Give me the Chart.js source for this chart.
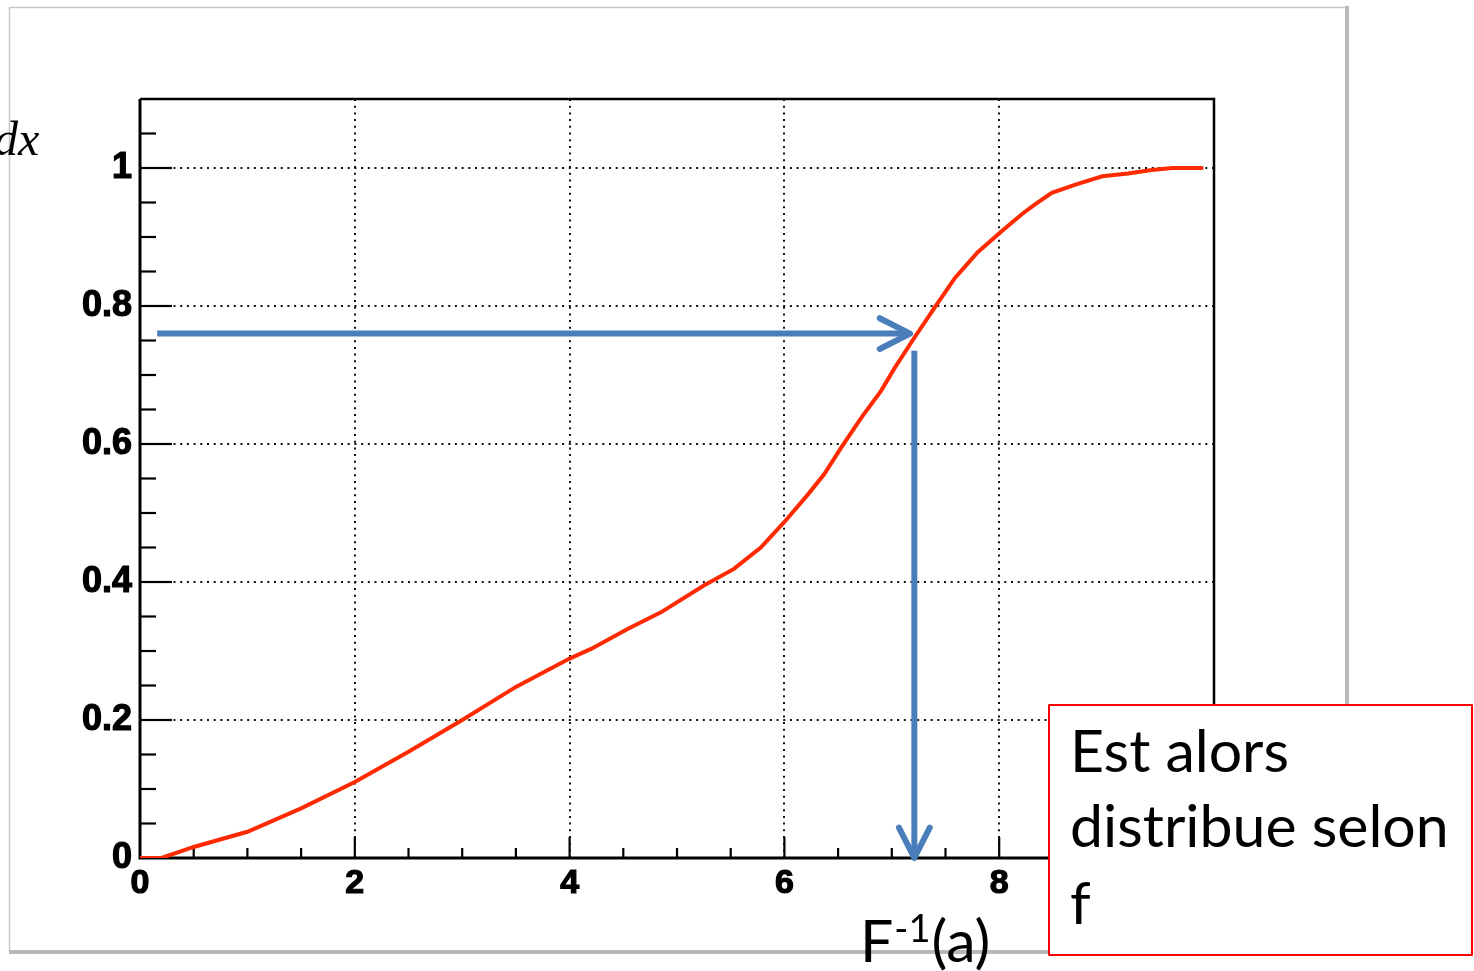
<!DOCTYPE html>
<html>
<head>
<meta charset="utf-8">
<script src="https://cdn.jsdelivr.net/npm/chart.js@4.4.1/dist/chart.umd.min.js"></script>
<style>
  html, body { margin: 0; padding: 0; background: #fff; }
  #wrap { position: relative; width: 1474px; height: 971px; }
</style>
</head>
<body>
<div id="wrap"><canvas id="cdf"></canvas></div>
<script>
// cumulative curve F(x)
var cdfX = [0, 0.2, 0.5, 1.0, 1.5, 2.0, 2.5, 3.0, 3.5, 4.0, 4.2, 4.54, 4.85, 5.25, 5.53, 5.78, 6.0,
            6.22, 6.37, 6.53, 6.72, 6.9, 7.03, 7.21, 7.4, 7.59, 7.8, 8.02, 8.21, 8.33, 8.49, 8.71,
            8.96, 9.2, 9.42, 9.61, 9.9];
var cdfY = [0, 0, 0.016, 0.038, 0.072, 0.110, 0.154, 0.200, 0.248, 0.289, 0.303, 0.332, 0.356, 0.395, 0.419, 0.450, 0.487,
            0.527, 0.556, 0.595, 0.639, 0.677, 0.711, 0.754, 0.798, 0.841, 0.878, 0.908, 0.933, 0.947, 0.964, 0.976,
            0.988, 0.992, 0.997, 1.0, 1.0];

var xTicks = [0, 2, 4, 6, 8, 10];
var yTicks = [0, 0.2, 0.4, 0.6, 0.8, 1];

// a -> F^-1(a) construction
var levelA = 0.76;
var horizArrowX = [0.16, 7.17];
var inverseX = 7.21;
var vertArrowY = [0.735, 0];

var boxLines = ['Est alors', 'distribue selon', 'f'];

var BLUE = '#4a7ebb';
var TEXT_FONT = 'Lato';

function drawArrow(ctx, x0, y0, x1, y1) {
    var ang = Math.atan2(y1 - y0, x1 - x0);
    var len = 34, spread = 0.47;
    ctx.lineCap = 'butt';
    ctx.beginPath();
    ctx.moveTo(x0, y0);
    ctx.lineTo(x1 - 3 * Math.cos(ang), y1 - 3 * Math.sin(ang));
    ctx.stroke();
    ctx.lineCap = 'round';
    ctx.lineJoin = 'round';
    ctx.beginPath();
    ctx.moveTo(x1 - len * Math.cos(ang - spread), y1 - len * Math.sin(ang - spread));
    ctx.lineTo(x1, y1);
    ctx.lineTo(x1 - len * Math.cos(ang + spread), y1 - len * Math.sin(ang + spread));
    ctx.stroke();
}

var decor = {
    id: 'decor',
    beforeDraw: function(chart) {
        var ctx = chart.ctx;
        ctx.save();
        ctx.fillStyle = '#fff';
        ctx.fillRect(0, 0, chart.width, chart.height);
        // slide frame around the picture
        ctx.strokeStyle = '#c8c8c8';
        ctx.lineWidth = 1.5;
        ctx.beginPath();
        ctx.moveTo(9.5, 952); ctx.lineTo(9.5, 7.5); ctx.lineTo(1347, 7.5);
        ctx.stroke();
        ctx.strokeStyle = '#b8b8b8';
        ctx.lineWidth = 4;
        ctx.beginPath();
        ctx.moveTo(1347, 6); ctx.lineTo(1347, 952); ctx.lineTo(9, 952);
        ctx.stroke();
        ctx.restore();
    },
    beforeDatasetsDraw: function(chart) {
        var ctx = chart.ctx, a = chart.chartArea;
        var xs = chart.scales.x, ys = chart.scales.y;
        ctx.save();
        ctx.strokeStyle = '#000';
        // inner ticks
        ctx.lineWidth = 2.2;
        for (var i = 1; i < 22; i++) {
            var v = i * 0.05;
            var py = ys.getPixelForValue(v);
            var major = i % 4 === 0;
            ctx.beginPath();
            ctx.moveTo(a.left, py);
            ctx.lineTo(a.left + (major ? 32 : 16), py);
            ctx.stroke();
        }
        for (var j = 1; j < 20; j++) {
            var px = xs.getPixelForValue(j * 0.5);
            var maj = j % 4 === 0;
            ctx.beginPath();
            ctx.moveTo(px, a.bottom);
            ctx.lineTo(px, a.bottom - (maj ? 21 : 10));
            ctx.stroke();
        }
        // frame
        ctx.lineWidth = 2.5;
        ctx.beginPath();
        ctx.moveTo(a.left, a.top); ctx.lineTo(a.right, a.top); ctx.lineTo(a.right, a.bottom);
        ctx.stroke();
        ctx.lineWidth = 3;
        ctx.beginPath();
        ctx.moveTo(a.left, a.top); ctx.lineTo(a.left, a.bottom); ctx.lineTo(a.right, a.bottom);
        ctx.stroke();
        ctx.restore();
    },
    afterDraw: function(chart) {
        var ctx = chart.ctx;
        var xs = chart.scales.x, ys = chart.scales.y;
        ctx.save();

        // arrows
        ctx.strokeStyle = BLUE;
        ctx.lineWidth = 6;
        var hy = ys.getPixelForValue(levelA);
        drawArrow(ctx, xs.getPixelForValue(horizArrowX[0]), hy, xs.getPixelForValue(horizArrowX[1]), hy);
        var vx = xs.getPixelForValue(inverseX);
        drawArrow(ctx, vx, ys.getPixelForValue(vertArrowY[0]), vx, ys.getPixelForValue(vertArrowY[1]));

        // clipped "dx" at the left edge
        ctx.fillStyle = '#000';
        ctx.textBaseline = 'alphabetic';
        ctx.textAlign = 'left';
        ctx.font = 'italic 48px "Liberation Serif"';
        ctx.fillText('dx', -6, 155);

        // size text so "distribue selon" spans the box like the original
        ctx.font = '100px ' + TEXT_FONT;
        var size = Math.round(378 / ctx.measureText(boxLines[1]).width * 100);
        var big = size + 'px ' + TEXT_FONT;
        var small = Math.round(size * 0.64) + 'px ' + TEXT_FONT;

        // F^-1(a) label
        var tx = 860;
        ctx.font = big;
        ctx.fillText('F', tx, 962);
        tx += ctx.measureText('F').width + 1;
        ctx.font = small;
        ctx.fillText('-1', tx, 942);
        tx += ctx.measureText('-1').width + 1;
        ctx.font = big;
        ctx.fillText('(a)', tx, 962);

        // red text box
        ctx.fillStyle = '#fff';
        ctx.fillRect(1048, 704, 425, 251);
        ctx.strokeStyle = '#ff0000';
        ctx.lineWidth = 2;
        ctx.strokeRect(1049, 705, 423, 250);
        ctx.fillStyle = '#000';
        ctx.font = big;
        var baselines = [772, 847, 924];
        for (var k = 0; k < boxLines.length; k++) {
            ctx.fillText(boxLines[k], 1070, baselines[k]);
        }
        ctx.restore();
    }
};

function gridColor(lo, hi) {
    return function(c) {
        var v = c.tick ? c.tick.value : null;
        return (v !== null && v > lo && v < hi) ? '#111' : 'rgba(0,0,0,0)';
    };
}

var points = cdfX.map(function(x, i) { return { x: x, y: cdfY[i] }; });

new Chart(document.getElementById('cdf'), {
    type: 'line',
    data: {
        datasets: [{
            label: 'F(x)',
            data: points,
            borderColor: '#ff2a00',
            borderWidth: 4,
            pointRadius: 0,
            tension: 0,
            fill: false
        }]
    },
    options: {
        responsive: true,
        maintainAspectRatio: false,
        animation: false,
        layout: { padding: { left: 0, top: 99, right: 260, bottom: 0 } },
        plugins: {
            legend: { display: false },
            tooltip: { enabled: false }
        },
        scales: {
            x: {
                type: 'linear',
                min: 0,
                max: 10,
                afterFit: function(axis) { axis.height = 113; },
                afterBuildTicks: function(axis) {
                    axis.ticks = xTicks.map(function(v) { return { value: v }; });
                },
                grid: { color: gridColor(0.5, 9.5), lineWidth: 2, drawTicks: false },
                border: { display: false, dash: [2, 4.7] },
                ticks: {
                    color: '#000',
                    font: { family: 'Liberation Sans', weight: 'bold', size: 34 },
                    textStrokeColor: '#000',
                    textStrokeWidth: 1.2,
                    padding: 5,
                    autoSkip: false,
                    maxRotation: 0,
                    callback: function(v) { return String(v); }
                }
            },
            y: {
                type: 'linear',
                min: 0,
                max: 1.1,
                afterFit: function(axis) { axis.width = 140; },
                afterBuildTicks: function(axis) {
                    axis.ticks = yTicks.map(function(v) { return { value: v }; });
                },
                grid: { color: gridColor(0.1, 1.05), lineWidth: 2, drawTicks: false },
                border: { display: false, dash: [2, 4.7] },
                ticks: {
                    color: '#000',
                    font: { family: 'Liberation Sans', weight: 'bold', size: 36 },
                    textStrokeColor: '#000',
                    textStrokeWidth: 1.2,
                    padding: 8,
                    callback: function(v) { return String(Math.round(v * 10) / 10); }
                }
            }
        }
    },
    plugins: [decor]
});
</script>
</body>
</html>
